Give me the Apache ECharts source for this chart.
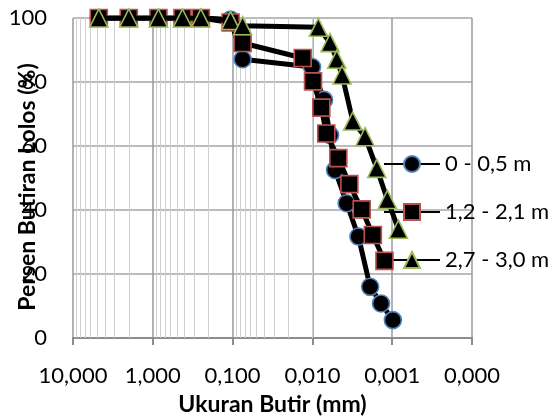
<!DOCTYPE html>
<html>
<head>
<meta charset="utf-8">
<script src="https://cdn.jsdelivr.net/npm/echarts@6/dist/echarts.min.js"></script>
<style>
  html, body { margin: 0; padding: 0; background: #fff; }
  #chart { width: 559px; height: 417px; }
</style>
</head>
<body>
<div id="chart"></div>
<script>
// Grain-size distribution (sieve + hydrometer), three sampling depths
const seriesNames = ['0 - 0,5 m', '1,2 - 2,1 m', '2,7 - 3,0 m'];

// Sieve openings (mm)
const sieveSizes = [4.75, 2.0, 0.85, 0.425, 0.25, 0.106, 0.075];

// Depth 0 - 0,5 m
const sievePass1 = [100, 100, 100, 100, 100, 99.5, 87.1];
const hydroSize1 = [0.0101, 0.00715, 0.00601, 0.0052, 0.00372, 0.00265, 0.00189, 0.00138, 0.00098];
const hydroPass1 = [84.7, 74.4, 63.4, 52.5, 42.1, 31.7, 16.0, 10.8, 5.6];

// Depth 1,2 - 2,1 m
const sievePass2 = [100, 100, 100, 100, 100, 98.6, 92.2];
const hydroSize2 = [0.01324, 0.00982, 0.00773, 0.0067, 0.00473, 0.00344, 0.00241, 0.00175, 0.00125];
const hydroPass2 = [87.5, 80.2, 72.0, 63.9, 56.2, 48.1, 40.2, 32.2, 24.1];

// Depth 2,7 - 3,0 m
const sievePass3 = [100, 100, 100, 100, 100, 99.2, 97.6];
const hydroSize3 = [0.00843, 0.00601, 0.00495, 0.00425, 0.00312, 0.00219, 0.00156, 0.00115, 0.000836];
const hydroPass3 = [97.1, 92.3, 87.1, 82.2, 67.8, 62.9, 53.0, 43.3, 34.0];

// Axis ranges / ticks
const xMin = 0.0001, xMax = 10;
const yTicks = [0, 20, 40, 60, 80, 100];

function pairs(sizesA, passA, sizesB, passB) {
  const out = [];
  sizesA.forEach((s, i) => out.push([s, passA[i]]));
  sizesB.forEach((s, i) => out.push([s, passB[i]]));
  return out;
}

// Minor log gridlines (2..9 within each decade)
const minorGrid = [];
for (let e = -4; e < 1; e++) {
  for (let k = 2; k <= 9; k++) minorGrid.push(+(k * Math.pow(10, e)).toPrecision(6));
}

const FONT = 'Lato, "Open Sans", sans-serif';
const styles = [
  { symbol: 'circle', size: 17, border: '#4F81BD' },
  { symbol: 'rect', size: 17, border: '#C0504D' },
  { symbol: 'triangle', size: 18, border: '#9BBB59' }
];
const dataSets = [
  pairs(sieveSizes, sievePass1, hydroSize1, hydroPass1),
  pairs(sieveSizes, sievePass2, hydroSize2, hydroPass2),
  pairs(sieveSizes, sievePass3, hydroSize3, hydroPass3)
];

const series = [{
  name: '__grid',
  type: 'line',
  data: [],
  silent: true,
  markLine: {
    silent: true,
    z: 1,
    symbol: ['none', 'none'],
    label: { show: false },
    emphasis: { disabled: true },
    lineStyle: { color: '#cfcfcf', width: 1, type: 'solid' },
    data: minorGrid.map(v => ({ xAxis: v }))
  }
}];
dataSets.forEach((d, i) => {
  series.push({
    name: seriesNames[i],
    type: 'line',
    data: d,
    z: 3 + i,
    symbol: styles[i].symbol,
    symbolSize: styles[i].size,
    showAllSymbol: true,
    lineStyle: { color: '#000', width: 5 },
    itemStyle: { color: '#000', borderColor: styles[i].border, borderWidth: 1.6 }
  });
});

const chart = echarts.init(document.getElementById('chart'), null, { renderer: 'canvas' });
chart.setOption({
  animation: false,
  backgroundColor: '#fff',
  textStyle: { fontFamily: FONT },
  grid: { left: 73, right: 87, top: 18, bottom: 79, outerBoundsMode: 'none', containLabel: false },
  legend: {
    data: seriesNames,
    orient: 'vertical',
    left: 383,
    top: 153,
    padding: 0,
    itemWidth: 56,
    itemHeight: 20,
    itemGap: 26,
    selectedMode: false,
    textStyle: { fontSize: 22, fontFamily: FONT, color: '#000', lineHeight: 20 }
  },
  xAxis: {
    type: 'log',
    logBase: 10,
    min: xMin,
    max: xMax,
    inverse: true,
    name: 'Ukuran Butir (mm)',
    nameLocation: 'middle',
    nameGap: 55,
    nameMoveOverlap: false,
    nameTextStyle: { fontSize: 23, fontWeight: 'bold', color: '#000', fontFamily: FONT },
    axisLine: { show: true, lineStyle: { color: '#8c8c8c', width: 2 } },
    axisTick: { show: true, length: 7, lineStyle: { color: '#8c8c8c', width: 2 } },
    axisLabel: {
      fontSize: 22, color: '#000', margin: 27, fontFamily: FONT,
      formatter: v => Number(v).toFixed(3).replace('.', ',')
    },
    splitLine: { show: true, lineStyle: { color: '#9a9a9a', width: 1.5 } }
  },
  yAxis: {
    type: 'value',
    min: yTicks[0],
    max: yTicks[yTicks.length - 1],
    interval: 20,
    name: 'Persen Butiran Lolos (%)',
    nameLocation: 'middle',
    nameGap: 34,
    nameMoveOverlap: false,
    nameTextStyle: { fontSize: 23, fontWeight: 'bold', color: '#000', fontFamily: FONT, padding: [0, 18, 0, 0] },
    axisLine: { show: false },
    axisTick: { show: false },
    axisLabel: { fontSize: 22, color: '#000', margin: 26, fontFamily: FONT },
    splitLine: { show: true, lineStyle: { color: '#a6a6a6', width: 1.5 } }
  },
  series: series
});
</script>
</body>
</html>
